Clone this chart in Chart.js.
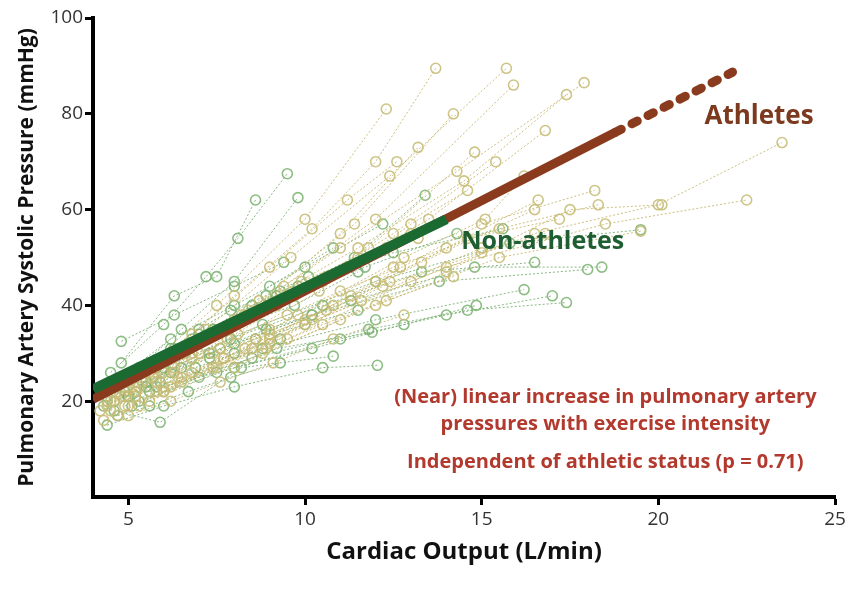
<!DOCTYPE html>
<html>
<head>
<meta charset="utf-8">
<script src="https://cdn.jsdelivr.net/npm/chart.js@4.4.0/dist/chart.umd.min.js"></script>
<style>
  html, body { margin: 0; padding: 0; background: #fff; }
  #wrap { width: 861px; height: 597px; position: relative; }
</style>
</head>
<body>
<div id="wrap"><canvas id="chart"></canvas></div>
<script>
// axis ticks
const xTicks = [5, 10, 15, 20, 25];
const yTicks = [20, 40, 60, 80, 100];

// group means (thick lines)
const athletesSolid = [[4, 20.4], [18.8, 76.2]];
const athletesDashed = [[18.8, 76.2], [22.1, 88.7]];
const nonAthletesMean = [[4, 22.5], [14, 58]];

// individual athletes, [cardiac output, PASP] per stage
const athleteSubjects = [
  [[4.6, 20], [6.2, 30], [8.0, 42], [10.2, 56], [12.0, 70], [13.7, 89.5]],
  [[5.0, 23], [7.2, 35], [9.6, 50], [12.4, 67], [15.7, 89.5]],
  [[4.8, 21], [7.0, 32], [9.4, 44], [12.0, 58], [15.9, 86]],
  [[5.4, 24], [8.0, 37], [11.0, 52], [14.3, 68], [17.9, 86.5]],
  [[4.5, 18], [6.3, 27], [8.7, 41], [11.4, 57], [14.2, 80]],
  [[5.0, 24], [7.5, 40], [10.0, 58], [12.3, 81]],
  [[4.4, 19], [6.0, 26], [8.3, 38], [11.0, 55], [13.2, 73]],
  [[5.6, 26], [8.2, 38], [11.5, 52], [14.5, 66], [17.4, 84]],
  [[5.2, 22], [7.8, 33], [10.5, 45], [13.5, 58], [16.8, 76.5]],
  [[5.8, 24], [9.0, 35], [12.5, 48], [15.5, 56], [18.3, 61]],
  [[8.0, 27], [11.0, 37], [14.0, 47], [17.5, 60], [20.1, 61]],
  [[6.5, 25], [10.0, 36], [14.0, 48], [18.5, 57], [22.5, 62]],
  [[6.0, 22], [9.5, 33], [13.0, 45], [16.5, 55], [20.0, 61], [23.5, 74]],
  [[4.7, 17], [6.5, 24], [9.0, 33], [12.0, 45], [15.0, 57], [18.2, 64]],
  [[5.3, 19], [7.5, 27], [10.2, 37], [13.3, 49], [16.5, 60]],
  [[4.9, 21], [7.0, 30], [9.7, 42], [12.5, 55], [15.4, 70]],
  [[5.8, 22], [8.3, 31], [11.3, 42], [14.6, 54], [17.2, 58]],
  [[6.2, 23], [9.0, 32], [12.2, 44], [15.0, 51], [16.8, 55]],
  [[5.0, 19], [7.7, 29], [10.8, 40], [14.0, 52], [16.6, 62]],
  [[4.5, 20], [6.8, 30], [9.3, 41], [11.8, 52], [14.8, 72]],
  [[4.3, 16], [6.0, 22], [8.5, 31], [11.6, 41], [15.0, 52]],
  [[5.6, 20], [8.8, 30], [12.0, 40], [15.5, 50], [19.5, 55.5]],
  [[4.9, 24], [6.8, 34], [9.0, 48], [11.2, 62], [12.6, 70]],
  [[5.2, 21], [7.6, 31], [10.4, 43], [13.0, 57], [14.6, 64]],
  [[6.8, 26], [9.8, 38], [12.8, 50], [15.1, 58], [16.2, 67]],
  [[4.5, 22], [5.5, 26], [6.6, 30], [7.8, 35], [9.2, 40], [10.6, 46], [12.3, 52]],
  [[4.2, 18], [5.2, 21], [6.4, 25], [7.7, 29], [9.0, 34], [10.6, 39], [12.4, 45]],
  [[5.0, 17], [6.2, 20], [7.6, 24], [9.1, 28], [10.8, 33], [12.8, 38]],
  [[4.6, 24], [5.7, 28], [7.0, 33], [8.4, 39], [9.9, 45], [11.5, 50], [13.2, 54]],
  [[5.4, 27], [6.6, 31], [8.0, 36], [9.6, 42], [11.2, 48], [13.0, 55]],
  [[4.9, 19], [6.0, 23], [7.4, 27], [8.9, 31], [10.5, 36], [12.3, 41], [14.2, 46]],
  [[4.4, 20], [5.3, 23], [6.3, 26], [7.4, 30], [8.6, 33], [10.0, 37]],
  [[5.7, 25], [6.8, 29], [8.1, 34], [9.5, 38], [11.0, 43], [12.7, 48]]
];

// individual non-athletes
const nonAthleteSubjects = [
  [[4.8, 28], [6.3, 42], [7.5, 46], [8.6, 62]],
  [[4.5, 26], [6.0, 36], [7.2, 46], [8.1, 54], [9.5, 67.5]],
  [[5.0, 25], [6.5, 35], [8.0, 45], [9.8, 62.5]],
  [[4.4, 20], [5.8, 27], [7.4, 35], [9.0, 44], [10.8, 52]],
  [[4.4, 15], [6.0, 19], [8.0, 23], [10.5, 27], [12.05, 27.5]],
  [[4.6, 18], [5.9, 15.6], [8.2, 27], [10.8, 29.4]],
  [[5.1, 19], [7.0, 25], [9.2, 31], [11.9, 34.4]],
  [[5.0, 21], [7.5, 26], [10.2, 31], [12.8, 36], [14.85, 40]],
  [[5.3, 20], [8.0, 27], [11.0, 33], [14.0, 38], [17.0, 42]],
  [[5.6, 22], [8.5, 29], [11.8, 35], [14.6, 39], [17.4, 40.6]],
  [[5.8, 23], [8.8, 31], [12.0, 37], [16.2, 43.3]],
  [[4.9, 22], [7.3, 30], [10.2, 38], [13.8, 45], [18.0, 47.5]],
  [[5.4, 24], [8.0, 32], [11.3, 41], [14.8, 48], [18.4, 48]],
  [[4.7, 23], [6.6, 31], [9.0, 40], [11.7, 48], [14.3, 55]],
  [[5.2, 26], [7.0, 34], [9.3, 43], [12.5, 51], [15.6, 56]],
  [[4.6, 24], [6.2, 33], [8.0, 40], [10.0, 48], [12.2, 57]],
  [[6.0, 27], [8.8, 36], [12.0, 45], [15.8, 53], [19.5, 55.8]],
  [[5.5, 24], [7.9, 33], [10.5, 40], [13.3, 47], [16.5, 49]],
  [[4.8, 25], [6.8, 33], [9.2, 42], [11.4, 50], [13.4, 63]],
  [[4.4, 21], [6.0, 28], [7.8, 35], [9.7, 40], [11.5, 47]],
  [[4.8, 32.5], [6.3, 38], [8.0, 44], [9.4, 49]],
  [[4.3, 19], [5.0, 21], [5.9, 24], [6.9, 27], [8.0, 30], [9.3, 33]],
  [[4.6, 20], [5.5, 23], [6.5, 27], [7.6, 31], [8.9, 35], [10.2, 38]],
  [[5.2, 22], [6.2, 26], [7.3, 29], [8.6, 33], [10.0, 36], [11.5, 39]],
  [[4.5, 23], [5.3, 27], [6.3, 31], [7.4, 35], [8.5, 40], [9.8, 44]],
  [[6.2, 31], [7.0, 35], [7.9, 39], [8.9, 42], [10.1, 46]],
  [[4.7, 17], [5.6, 19], [6.7, 22], [7.9, 25], [9.3, 28]]
];

const toXY = arr => arr.map(p => ({ x: p[0], y: p[1] }));

const subjectSet = (list, lineCol, ptCol) => list.map(s => ({
  data: toXY(s),
  showLine: true,
  borderColor: lineCol,
  borderWidth: 1,
  borderDash: [2, 2],
  pointRadius: 5,
  pointBorderColor: ptCol,
  pointBorderWidth: 1.6,
  pointBackgroundColor: 'rgba(255,255,255,0)',
  order: 2
}));

const datasets = [
  {
    label: 'Non-athletes',
    data: toXY(nonAthletesMean),
    showLine: true,
    borderColor: '#1b6a32',
    borderWidth: 10,
    borderCapStyle: 'butt',
    pointRadius: 0,
    order: 0
  },
  {
    label: 'Athletes',
    data: toXY(athletesSolid),
    showLine: true,
    borderColor: '#8a3b1e',
    borderWidth: 9,
    pointRadius: 0,
    order: 1
  },
  {
    label: 'Athletes (extrapolated)',
    data: toXY(athletesDashed),
    showLine: true,
    borderColor: '#8a3b1e',
    borderWidth: 9,
    borderDash: [6, 12],
    borderCapStyle: 'round',
    pointRadius: 0,
    order: 1
  },
  ...subjectSet(athleteSubjects, 'rgba(196,180,104,0.85)', 'rgba(200,190,120,0.9)'),
  ...subjectSet(nonAthleteSubjects, 'rgba(116,172,108,0.85)', 'rgba(128,182,116,0.9)')
];

// text labels inside the plot
const labels = [
  { text: 'Athletes', x: 22.85, y: 79.4, color: '#7b3a1d', size: 26, align: 'center' },
  { text: 'Non-athletes', x: 14.42, y: 53.2, color: '#1f5e33', size: 25, align: 'left' },
  { text: '(Near) linear increase in pulmonary artery', x: 18.5, y: 20.9, color: '#b2392d', size: 20, align: 'center' },
  { text: 'pressures with exercise intensity', x: 18.5, y: 15.1, color: '#b2392d', size: 20, align: 'center' },
  { text: 'Independent of athletic status (p = 0.71)', x: 18.5, y: 7.2, color: '#b2392d', size: 20, align: 'center' }
];

const textPlugin = {
  id: 'texts',
  afterDatasetsDraw(chart) {
    const { ctx, scales } = chart;
    ctx.save();
    ctx.textBaseline = 'middle';
    labels.forEach(l => {
      ctx.font = `bold ${l.size}px "Open Sans", sans-serif`;
      ctx.fillStyle = l.color;
      ctx.textAlign = l.align;
      ctx.fillText(l.text, scales.x.getPixelForValue(l.x), scales.y.getPixelForValue(l.y));
    });
    ctx.restore();
  }
};

new Chart(document.getElementById('chart'), {
  type: 'scatter',
  data: { datasets },
  plugins: [textPlugin],
  options: {
    responsive: true,
    maintainAspectRatio: false,
    animation: false,
    layout: { padding: { top: 18, right: 26, bottom: 30, left: 10 } },
    plugins: { legend: { display: false }, tooltip: { enabled: false } },
    scales: {
      x: {
        type: 'linear',
        min: 4,
        max: 25,
        afterBuildTicks: s => { s.ticks = xTicks.map(v => ({ value: v })); },
        afterFit: s => { s.height = 70; },
        grid: { drawOnChartArea: false, tickLength: 8, tickWidth: 3, tickColor: '#000' },
        border: { color: '#000', width: 4 },
        ticks: { color: '#333', font: { size: 19, family: '"Open Sans", sans-serif' }, padding: 3, maxRotation: 0 },
        title: { display: true, text: 'Cardiac Output (L/min)', color: '#111', font: { size: 24, weight: 'bold', family: '"Open Sans", sans-serif' }, padding: { top: 2, bottom: 0 } }
      },
      y: {
        min: 0,
        max: 100,
        afterBuildTicks: s => { s.ticks = yTicks.map(v => ({ value: v })); },
        afterFit: s => { s.width = 83; },
        grid: { drawOnChartArea: false, tickLength: 8, tickWidth: 3, tickColor: '#000' },
        border: { color: '#000', width: 4 },
        ticks: { color: '#333', font: { size: 19, family: '"Open Sans", sans-serif' }, padding: 2 },
        title: { display: true, text: 'Pulmonary Artery Systolic Pressure (mmHg)', color: '#111', font: { size: 21, weight: 'bold', family: '"Open Sans", sans-serif' } }
      }
    }
  }
});
</script>
</body>
</html>
